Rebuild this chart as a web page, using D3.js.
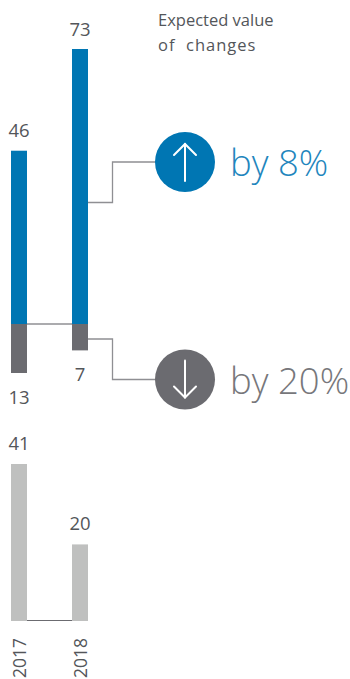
<!DOCTYPE html>
<html>
<head>
<meta charset="utf-8">
<script src="https://cdn.jsdelivr.net/npm/d3@7/dist/d3.min.js"></script>
<style>
html,body{margin:0;padding:0;background:#fff}
svg{display:block}
text{font-family:"Open Sans",sans-serif;fill:#53565a}
</style>
</head>
<body>
<svg id="chart" width="350" height="679"></svg>
<script>
// Yearly values for the three stacked measures
const years = ["2017", "2018"];
const positive = [46, 73];
const negative = [13, 7];
const totals = [41, 20];
const changes = ["by 8%", "by 20%"];
const titleLines = ["Expected value", "of  changes"];

const BLUE = "#0076b3", GREY = "#6b6b70", LIGHT = "#bfc0bf", LINK = "#8f8f93";

const svg = d3.select("#chart");
const bw = 16;
const x = d3.scalePoint().domain(years).range([11, 72]);
const zero = 324;
const upY = d3.scaleLinear().domain([0, 73]).range([zero, 49]);
const downY = d3.scaleLinear().domain([0, 13]).range([zero, 373]);
const base = 621;
const totalY = d3.scaleLinear().domain([0, 41]).range([base, 464]);

const labelSize = 18.5;
const barX = (d, i) => x(years[i]);
const midX = (d, i) => x(years[i]) + bw / 2;

// Upper bars
svg.selectAll(".up").data(positive).join("rect")
  .attr("class", "up")
  .attr("x", barX).attr("width", bw)
  .attr("y", d => upY(d)).attr("height", d => zero - upY(d)).attr("fill", BLUE);
svg.selectAll(".up-label").data(positive).join("text")
  .attr("class", "up-label")
  .attr("x", midX)
  .attr("y", d => upY(d) - 13.5)
  .attr("text-anchor", "middle").attr("font-size", labelSize).text(d => d);

// Lower bars
svg.selectAll(".down").data(negative).join("rect")
  .attr("class", "down")
  .attr("x", barX).attr("width", bw)
  .attr("y", zero).attr("height", d => downY(d) - zero).attr("fill", GREY);
svg.selectAll(".down-label").data(negative).join("text")
  .attr("class", "down-label")
  .attr("x", midX)
  .attr("y", d => downY(d) + 31)
  .attr("text-anchor", "middle").attr("font-size", labelSize).text(d => d);

// Connectors
const link = (pts) => svg.append("path")
  .attr("d", d3.line()(pts)).attr("fill", "none")
  .attr("stroke", LINK).attr("stroke-width", 1.3);
const x0 = x(years[0]), x1 = x(years[1]);
link([[x0 + bw, zero], [x1, zero]]);
link([[x1 + bw, 202.5], [112.5, 202.5], [112.5, 162], [156, 162]]);
link([[x1 + bw, 339], [112.5, 339], [112.5, 379.5], [156, 379.5]]);

// Bottom panel
svg.selectAll(".total").data(totals).join("rect")
  .attr("class", "total")
  .attr("x", barX).attr("width", bw)
  .attr("y", d => totalY(d)).attr("height", d => base - totalY(d)).attr("fill", LIGHT);
svg.selectAll(".total-label").data(totals).join("text")
  .attr("class", "total-label")
  .attr("x", midX)
  .attr("y", d => totalY(d) - 14)
  .attr("text-anchor", "middle").attr("font-size", labelSize).text(d => d);
svg.append("line").attr("x1", x0 + bw).attr("x2", x1).attr("y1", 620.5).attr("y2", 620.5)
  .attr("stroke", "#6b6b70").attr("stroke-width", 1);

svg.selectAll(".year").data(years).join("text")
  .attr("class", "year")
  .attr("transform", d => `translate(${x(d) + bw / 2 + 7},678) rotate(-90)`)
  .attr("font-size", 17.5).text(d => d);

// Change badges
const badge = (cy, color, dir, label, textColor) => {
  svg.append("circle").attr("cx", 185).attr("cy", cy).attr("r", 30).attr("fill", color);
  const s = dir;
  const arrow = [[185, cy + 19 * s], [185, cy - 18 * s]];
  const head = [[174, cy - 7 * s], [185, cy - 18 * s], [196, cy - 7 * s]];
  [arrow, head].forEach(p => svg.append("path").attr("d", d3.line()(p))
    .attr("fill", "none").attr("stroke", "#fff").attr("stroke-width", 2).attr("stroke-linecap", "round"));
  svg.append("text").attr("x", 230).attr("y", cy + 14)
    .attr("font-size", 36.5).attr("font-weight", 300).style("fill", textColor).text(label);
};
badge(162, BLUE, 1, changes[0], "#1f86bd");
badge(379.5, GREY, -1, changes[1], "#77777b");

// Title
svg.selectAll(".title").data(titleLines).join("text")
  .attr("class", "title")
  .attr("x", 158).attr("y", (d, i) => 26 + i * 25)
  .attr("font-size", 16.5).style("white-space", "pre")
  .style("letter-spacing", (d, i) => i ? "1px" : "0").text(d => d);
</script>
</body>
</html>
